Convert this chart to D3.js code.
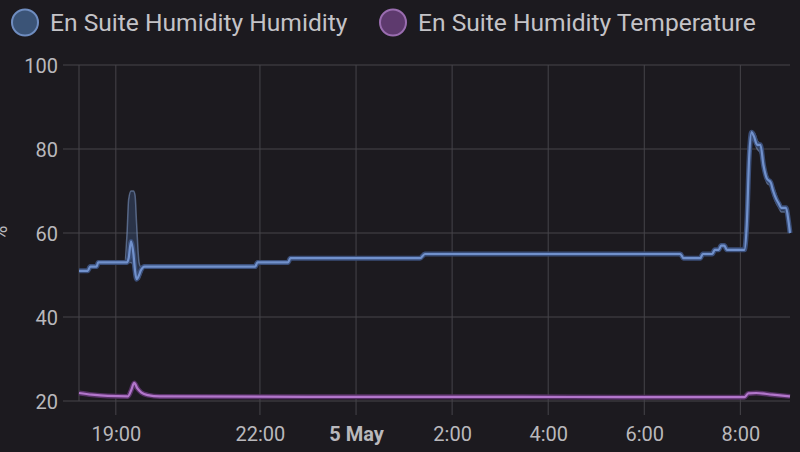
<!DOCTYPE html>
<html>
<head>
<meta charset="utf-8">
<script src="https://cdn.jsdelivr.net/npm/d3@7"></script>
<style>
  html, body { margin: 0; padding: 0; background: #1c1a1f; }
  svg { display: block; font-family: Roboto, "Noto Sans", sans-serif; }
</style>
</head>
<body>
<svg id="chart" width="800" height="452"></svg>
<script>
// ---- Data (times on 4 May evening -> 5 May morning) ----
const seriesNames = ["En Suite Humidity Humidity", "En Suite Humidity Temperature"];

const humidityTimes = ["18:14","18:25","18:28","18:36","18:38","19:11","19:14","19:16","19:19","19:22","19:24","19:26","19:29","19:31","19:36","21:54","21:57","22:35","22:38","1:20","1:26","6:45","6:49","7:10","7:13","7:25","7:28","7:33","7:36","7:40","7:43","8:05","8:08","8:11","8:14","8:17","8:21","8:25","8:29","8:33","8:38","8:41","8:45","8:48","8:51","8:57","9:00","9:02"];
const humidityMean  = [51,51,52,52,53,53,53,54,58,55,51,49,50,51,52,52,53,53,54,54,55,55,54,54,55,55,56,56,57,57,56,56,62,78,84,83,81,81,76,73,72,70,68,67,66,66,63,60];
const humidityMax   = [51,51,52,52,53,53,60,68,70,70,69,62,53,52,52,52,53,53,54,54,55,55,54,54,55,55,56,56,57,57,56,56,64,80,84,84,82,81,77,74,72,71,69,67,66,66,64,61];
const humidityMin   = [51,51,52,52,53,53,53,53,53,52,50,49,49,50,52,52,53,53,54,54,55,55,54,54,55,55,56,56,57,57,56,56,60,76,83,82,80,79,75,72,71,69,67,66,65,65,62,60];

const tempTimes  = ["18:14","18:30","18:50","19:15","19:19","19:23","19:27","19:32","19:40","19:55","23:00","3:00","6:00","8:05","8:10","8:20","8:40","9:02"];
const tempValues = [21.9,21.5,21.2,21.1,22.5,24.3,23.0,22.0,21.4,21.1,21.0,21.0,20.9,20.9,21.8,21.9,21.5,21.1];

const yTicks = [20, 40, 60, 80, 100];
const xTickTimes  = ["19:00","22:00","0:00","2:00","4:00","6:00","8:00"];
const xTickLabels = ["19:00","22:00","5 May","2:00","4:00","6:00","8:00"];
const xDomainTimes = ["18:14","9:02"];
const yUnit = "%";

// ---- helpers ----
function toDate(s) {
  const [h, m] = s.split(":").map(Number);
  const day = h < 12 ? 5 : 4;
  return new Date(2024, 4, day, h, m);
}

const svg = d3.select("#chart");
const plot = { left: 79, right: 790, top: 65, bottom: 401 };

const x = d3.scaleTime().domain(xDomainTimes.map(toDate)).range([plot.left, plot.right]);
const y = d3.scaleLinear().domain([20, 100]).range([plot.bottom, plot.top]);

const gridColor = "#46444a";
const textColor = "#b9b8bc";

// horizontal grid + y labels
svg.append("g").selectAll("line").data(yTicks).join("line")
  .attr("x1", 63).attr("x2", plot.right)
  .attr("y1", d => y(d)).attr("y2", d => y(d))
  .attr("stroke", gridColor).attr("stroke-width", 1);
const yAxis = d3.axisLeft(y).tickValues(yTicks).tickSize(0).tickPadding(0);
const gyl = svg.append("g").attr("transform", "translate(58,0)").call(yAxis);
gyl.select(".domain").remove();
gyl.selectAll("text").attr("fill", textColor).attr("font-size", 20).attr("font-family", "Roboto").attr("dy", "0.36em");

// vertical grid + x labels
const xt = xTickTimes.map(toDate);
svg.append("g").selectAll("line").data(xt).join("line")
  .attr("x1", d => x(d)).attr("x2", d => x(d))
  .attr("y1", plot.top).attr("y2", 415)
  .attr("stroke", gridColor).attr("stroke-width", 1);
svg.append("line").attr("x1", plot.left).attr("x2", plot.left)
  .attr("y1", plot.top).attr("y2", plot.bottom)
  .attr("stroke", gridColor).attr("stroke-width", 1);

const xAxis = d3.axisBottom(x).tickValues(xt).tickSize(0)
  .tickFormat((d, i) => xTickLabels[i]);
const gx = svg.append("g").attr("transform", "translate(0,426)").call(xAxis);
gx.select(".domain").remove();
gx.selectAll("text").attr("fill", textColor).attr("font-size", 20).attr("font-family", "Roboto")
  .attr("dy", "0em").attr("y", 15)
  .attr("font-weight", (d, i) => xTickLabels[i] === "5 May" ? "bold" : "normal");

// unit label
svg.append("text").attr("transform", "translate(7,233) rotate(-90)")
  .attr("text-anchor", "middle").attr("fill", textColor).attr("font-size", 20).text(yUnit);

// ---- series ----
const hum = humidityTimes.map((t, i) => ({ t: toDate(t), v: humidityMean[i], lo: humidityMin[i], hi: humidityMax[i] }));
const tmp = tempTimes.map((t, i) => ({ t: toDate(t), v: tempValues[i] }));

const curve = d3.curveMonotoneX;
const band = d3.area().x(d => x(d.t)).y0(d => y(d.lo)).y1(d => y(d.hi)).curve(curve);
const line = d3.line().x(d => x(d.t)).y(d => y(d.v)).curve(curve);

svg.append("path").datum(hum).attr("d", band)
  .attr("fill", "rgba(70,100,150,0.35)").attr("stroke", "rgba(130,155,200,0.55)").attr("stroke-width", 1.5);

svg.append("path").datum(hum).attr("d", line)
  .attr("fill", "none").attr("stroke", "#3a4e78").attr("stroke-width", 5).attr("stroke-linejoin", "round");
svg.append("path").datum(hum).attr("d", line)
  .attr("fill", "none").attr("stroke", "#7191cc").attr("stroke-width", 2.2).attr("stroke-linejoin", "round");

svg.append("path").datum(tmp).attr("d", line)
  .attr("fill", "none").attr("stroke", "#573266").attr("stroke-width", 5).attr("stroke-linejoin", "round");
svg.append("path").datum(tmp).attr("d", line)
  .attr("fill", "none").attr("stroke", "#b276cb").attr("stroke-width", 2.2).attr("stroke-linejoin", "round");

// ---- legend ----
const legend = [
  { name: seriesNames[0], cx: 25, fill: "#3b5477", stroke: "#6f8dc0" },
  { name: seriesNames[1], cx: 393, fill: "#5e3a6e", stroke: "#9a6db0" }
];
const lg = svg.append("g").selectAll("g").data(legend).join("g");
lg.append("circle").attr("cx", d => d.cx).attr("cy", 22.5).attr("r", 13)
  .attr("fill", d => d.fill).attr("stroke", d => d.stroke).attr("stroke-width", 2);
lg.append("text").attr("x", d => d.cx + 25).attr("y", 31)
  .attr("fill", "#c4c3c7").attr("font-size", 24.6).attr("font-family", "Roboto").text(d => d.name);
</script>
</body>
</html>
